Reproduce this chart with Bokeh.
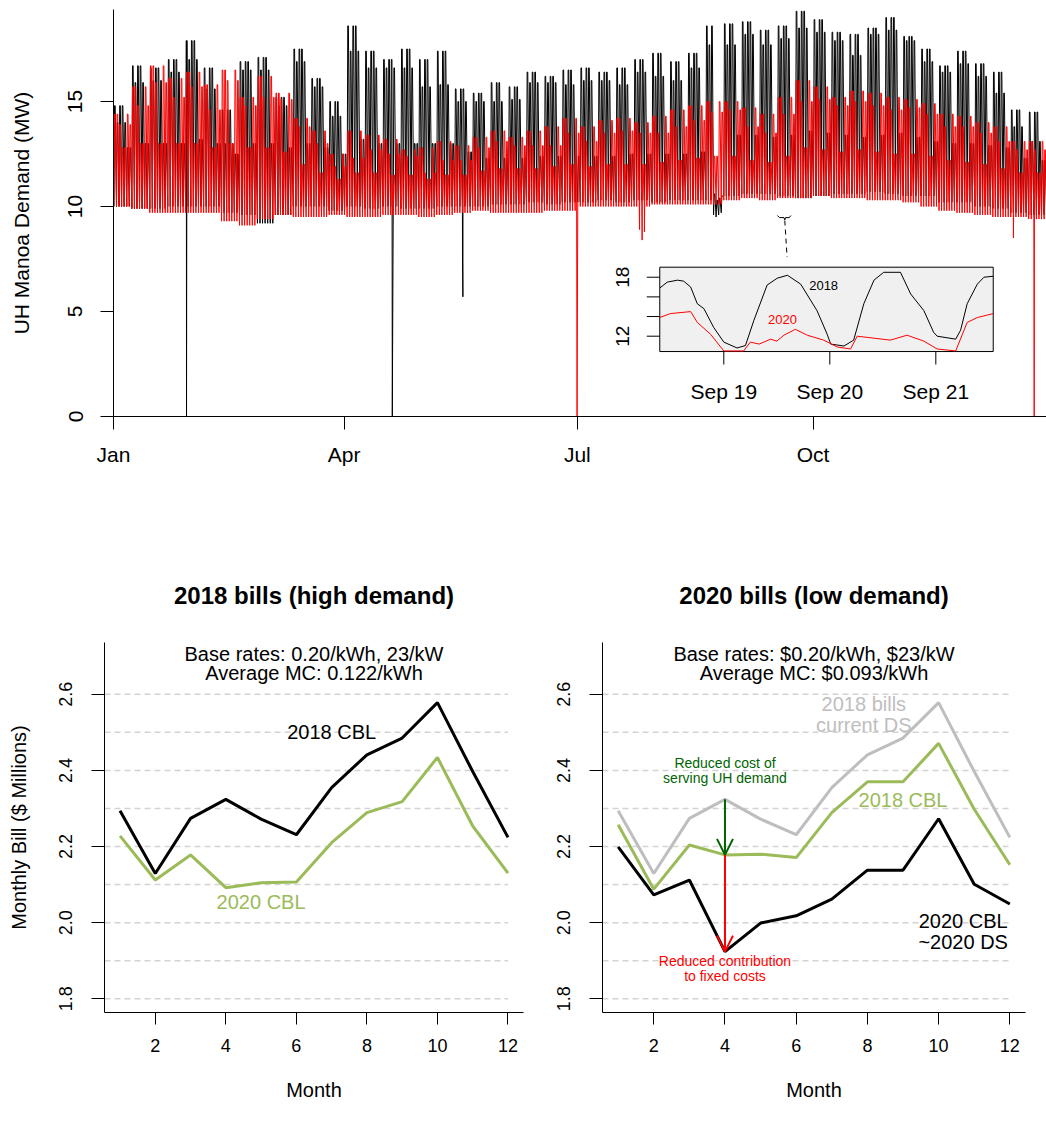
import numpy as np
from bokeh.plotting import figure
from bokeh.layouts import column, row
from bokeh.models import Range1d, FixedTicker, Arrow, OpenHead, PrintfTickFormatter, Title
from bokeh.core.properties import value
from bokeh.embed import file_html
from bokeh.resources import INLINE

FONT = "Liberation Sans"

# ---------------- top panel data (per week of the year) -------------
# weekly weekday peak (higher / lower days), weekend peak and nightly low, MW
peak_hi_2018 = [14.8, 16.7, 16.6, 17.0, 17.9, 16.6, 14.6, 16.9, 17.1, 15.2,
                17.5, 16.1, 15.0, 18.6, 17.4, 17.0, 17.5, 17.0, 17.4, 15.6,
                15.4, 15.9, 15.7, 16.4, 16.2, 16.5, 16.6, 16.4, 16.6, 17.0,
                17.3, 16.9, 17.3, 18.6, 18.7, 18.8, 18.4, 18.6, 19.3, 18.9,
                18.3, 18.2, 18.5, 19.0, 18.1, 17.5, 16.7, 17.4, 16.8, 16.4,
                14.6, 14.5, 13.0]
peak_lo_2018 = [14.0, 15.9, 16.0, 16.4, 17.0, 15.6, 13.0, 16.5, 16.5, 14.8,
                16.9, 15.7, 14.3, 17.4, 16.6, 16.6, 16.6, 15.7, 15.8, 15.0,
                15.0, 15.0, 15.1, 15.9, 15.9, 15.8, 16.0, 16.0, 15.8, 16.4,
                16.2, 16.0, 16.6, 17.7, 17.7, 18.2, 17.7, 18.0, 18.5, 18.3,
                17.9, 17.2, 18.2, 18.4, 17.9, 16.9, 16.4, 16.8, 16.2, 15.4,
                13.8, 13.1, 12.5]
weekend_2018 = [12.8, 13.0, 13.0, 13.0, 13.2, 13.0, 12.5, 13.0, 13.0, 12.8,
                13.0, 12.8, 12.5, 13.2, 13.0, 13.0, 13.0, 13.0, 13.0, 12.6,
                12.3, 12.3, 12.3, 12.4, 12.4, 12.4, 12.4, 12.4, 12.5, 12.5,
                12.5, 12.5, 12.6, 13.2, 13.4, 13.4, 13.3, 13.4, 13.6, 13.5,
                13.4, 13.3, 13.4, 13.5, 13.3, 13.1, 13.0, 13.0, 12.9, 12.8,
                12.3, 12.2, 12.0]
low_2018 = [10.0, 9.9, 9.9, 10.0, 10.0, 10.0, 9.7, 9.6, 9.2, 9.6,
            10.0, 10.0, 9.8, 10.0, 9.9, 10.0, 9.9, 9.9, 10.0, 10.0,
            10.0, 10.1, 10.1, 10.2, 10.1, 10.2, 10.2, 10.3, 10.2, 10.3,
            10.2, 10.3, 10.3, 10.3, 10.5, 10.6, 10.6, 10.5, 10.4, 10.5,
            10.6, 10.6, 10.7, 10.6, 10.5, 10.5, 10.2, 10.2, 10.0, 9.9,
            9.7, 9.6, 9.7]

peak_hi_2020 = [14.4, 15.7, 16.7, 16.1, 16.4, 15.8, 16.5, 15.2, 16.2, 15.4,
                14.2, 13.6, 12.5, 13.6, 13.4, 13.2, 12.7, 12.8, 13.1, 12.9,
                13.3, 13.6, 13.3, 13.6, 13.8, 14.2, 13.8, 14.1, 14.2, 14.0,
                14.3, 14.6, 14.8, 15.0, 15.0, 14.7, 14.4, 15.2, 16.0, 15.7,
                15.2, 15.5, 15.4, 15.2, 15.1, 14.9, 14.4, 14.3, 14.0, 13.8,
                13.1, 13.1, 12.8]
peak_lo_2020 = [13.9, 14.8, 15.9, 15.2, 15.7, 14.6, 16.0, 14.8, 15.2, 15.1,
                13.8, 13.0, 11.9, 12.3, 12.7, 12.5, 12.4, 11.6, 12.2, 12.2,
                12.8, 13.1, 12.9, 12.9, 12.9, 13.5, 13.1, 13.5, 13.6, 13.5,
                13.5, 13.8, 14.1, 14.5, 14.6, 13.8, 13.5, 14.4, 15.0, 15.1,
                14.8, 15.0, 14.8, 14.6, 14.7, 14.4, 13.8, 13.8, 13.5, 13.1,
                12.7, 12.7, 12.5]
weekend_2020 = [12.8, 13.0, 13.0, 13.0, 13.0, 12.8, 13.0, 12.8, 12.8, 12.6,
                12.0, 11.6, 11.3, 11.6, 11.6, 11.5, 11.5, 11.3, 11.5, 11.5,
                11.7, 11.8, 11.8, 11.8, 11.9, 12.0, 11.9, 12.0, 12.0, 12.0,
                12.1, 12.2, 12.3, 12.4, 12.4, 12.2, 12.1, 12.4, 12.8, 12.7,
                12.6, 12.7, 12.6, 12.5, 12.5, 12.4, 12.2, 12.1, 12.0, 11.8,
                11.6, 11.6, 11.5]
low_2020 = [10.0, 9.9, 9.7, 9.7, 9.7, 9.7, 9.3, 9.1, 9.4, 9.6,
            9.5, 9.5, 9.6, 9.5, 9.5, 9.6, 9.6, 9.5, 9.6, 9.7,
            9.8, 9.7, 9.7, 9.7, 9.8, 9.8, 10.0, 10.0, 10.0, 10.0,
            10.1, 10.1, 10.1, 10.1, 10.3, 10.4, 10.3, 10.4, 10.4, 10.5,
            10.4, 10.4, 10.3, 10.3, 10.2, 10.0, 9.8, 9.7, 9.6, 9.5,
            9.5, 9.4, 9.4]

# single readings: outages / dips (day of year, MW)
event_day_2018 = [28.5, 108.8, 136.2, 136.35]
event_mw_2018 = [0.0, 0.0, 7.5, 5.7]
storm_day_2018 = [234, 235, 236, 237]
storm_peak_2018 = [10.6, 10.3, 10.4, 10.5]
storm_low_2018 = [9.6, 9.5, 9.6, 9.7]
event_day_2020 = [180.9, 205.3, 206.3, 207.2, 351.2, 359.3]
event_mw_2020 = [0.0, 8.9, 8.4, 8.8, 8.5, 0.0]

month_tick_days = [0, 90, 181, 273]
month_tick_names = ["Jan", "Apr", "Jul", "Oct"]
demand_ticks = [0, 5, 10, 15]

# inset: Sep 18-21, hours since Sep 18 00:00
inset_day0 = 260  # Sep 18 (0-based day of year)
inset_hours_2018 = [9.5, 11.2, 13.5, 14.9, 16.5, 18.0, 19.5, 21.7, 24.0, 27.0,
                    28.9, 30.8, 33.8, 36.1, 38.4, 41.4, 45.1, 47.4, 48.2, 51.2,
                    53.4, 55.7, 58.0, 60.2, 64.0, 66.3, 69.3, 71.5, 72.3, 76.5,
                    77.6, 79.1, 81.4, 82.9, 85.0]
inset_mw_2018 = [16.9, 17.5, 17.7, 17.6, 17.0, 15.3, 14.8, 12.9, 11.4, 10.8,
                 11.05, 13.6, 17.2, 17.9, 18.2, 17.3, 14.6, 12.2, 11.2, 11.0,
                 11.6, 15.3, 17.7, 18.5, 18.5, 16.3, 14.6, 12.4, 12.0, 11.7,
                 12.6, 15.3, 17.3, 18.0, 18.1]
inset_hours_2020 = [9.5, 11.9, 16.5, 18.0, 21.0, 24.0, 28.5, 30.0, 32.0, 34.6,
                    36.0, 37.6, 40.2, 42.9, 46.6, 49.7, 52.7, 54.2, 58.0, 61.7,
                    65.5, 69.3, 72.3, 76.5, 79.1, 81.4, 85.0]
inset_mw_2020 = [13.9, 14.3, 14.5, 13.4, 12.2, 10.5, 10.5, 11.4, 11.2, 11.7,
                 11.5, 12.1, 12.7, 12.1, 11.6, 10.9, 10.7, 12.0, 11.8, 11.6,
                 12.1, 11.5, 10.7, 10.5, 13.4, 13.9, 14.3]
inset_ticks_hours = [24, 48, 72]
inset_tick_names = ["Sep 19", "Sep 20", "Sep 21"]
inset_ticks_mw = [12, 14, 16, 18]
inset_ylim = (10.44, 19.02)

# ---------------- bottom panels data ($ millions per month) ----------------
months = list(range(1, 13))
bill18_cbl18 = [2.294, 2.129, 2.274, 2.324, 2.272, 2.231, 2.355, 2.441, 2.485, 2.578, 2.397, 2.224]
bill18_cbl20 = [2.228, 2.112, 2.178, 2.092, 2.105, 2.107, 2.210, 2.289, 2.318, 2.434, 2.254, 2.130]
bill20_cbl18 = [2.257, 2.088, 2.204, 2.178, 2.180, 2.171, 2.289, 2.370, 2.370, 2.471, 2.298, 2.152]
bill20_cbl20 = [2.199, 2.073, 2.112, 1.924, 1.999, 2.018, 2.062, 2.138, 2.138, 2.273, 2.101, 2.049]
grid_levels = [1.8, 1.9, 2.0, 2.1, 2.2, 2.3, 2.4, 2.5, 2.6]
bill_ticks = [1.8, 2.0, 2.2, 2.4, 2.6]
month_ticks = [2, 4, 6, 8, 10, 12]

GREEN = "#9BBB59"
GRAY = "#BEBEBE"


def build_series(pk_hi, pk_lo, pk_we, lows, dow_shift, ev_day, ev_mw,
                 ov_day=(), ov_pk=(), ov_lo=()):
    ov = {d: (a, b) for d, a, b in zip(ov_day, ov_pk, ov_lo)}
    t, v = [], []
    for d in range(365):
        k = d // 7
        dow = (d + dow_shift) % 7
        if d in ov:
            pk, lo = ov[d]
        else:
            lo = lows[k]
            if dow >= 5:
                pk = pk_we[k]
            elif dow in (0, 2, 3):
                pk = pk_hi[k]
            else:
                pk = pk_lo[k]
        t += [d + 4 / 24, d + 10 / 24, d + 16 / 24]
        v += [lo, pk, pk]
    t += list(ev_day)
    v += list(ev_mw)
    order = np.argsort(np.array(t), kind="stable")
    return np.array(t)[order], np.array(v)[order]


def style_axis(ax, size, tick_out, standoff):
    ax.axis_line_color = "black"
    ax.axis_line_width = 1
    ax.major_tick_line_color = "black"
    ax.major_tick_in = 0
    ax.major_tick_out = tick_out
    ax.minor_tick_line_color = None
    ax.major_label_text_font = FONT
    ax.major_label_text_font_size = size
    ax.major_label_text_color = "black"
    ax.major_label_standoff = standoff
    ax.axis_label_text_font = FONT
    ax.axis_label_text_font_style = "normal"
    ax.axis_label_text_color = "black"


# ---------------- top figure ----------------
top = figure(width=1046, height=480, x_range=Range1d(0, 364.1), y_range=Range1d(0, 19.38),
             output_backend="svg", toolbar_location=None,
             min_border_left=113, min_border_right=0, min_border_top=9, min_border_bottom=64)
top.outline_line_color = None
top.xgrid.visible = False
top.ygrid.visible = False
style_axis(top.xaxis[0], "21px", 13, 13)
style_axis(top.yaxis[0], "21px", 13, 18)
top.xaxis.ticker = FixedTicker(ticks=month_tick_days)
top.xaxis.major_label_overrides = {d: n for d, n in zip(month_tick_days, month_tick_names)}
top.yaxis.ticker = FixedTicker(ticks=demand_ticks)
top.yaxis.major_label_orientation = "vertical"
top.yaxis.axis_label = "UH Manoa Demand (MW)"
top.yaxis.axis_label_text_font_size = "21px"
top.yaxis.axis_label_standoff = 33

t18, v18 = build_series(peak_hi_2018, peak_lo_2018, weekend_2018, low_2018, 0,
                        event_day_2018, event_mw_2018, storm_day_2018, storm_peak_2018, storm_low_2018)
t20, v20 = build_series(peak_hi_2020, peak_lo_2020, weekend_2020, low_2020, 2,
                        event_day_2020, event_mw_2020)
top.line(t18, v18, line_color="black", line_width=1)
top.line(t20, v20, line_color="red", line_width=1)

# bracket + dashed connector marking the inset period
bx0 = inset_day0 + inset_hours_2018[0] / 24
bx1 = inset_day0 + inset_hours_2018[-1] / 24
bxc = (bx0 + bx1) / 2
top.line([bx0 - 1.3, bx0 - 0.5, bxc - 0.3, bxc, bxc + 0.3, bx1 + 0.2, bx1 + 0.8],
         [9.57, 9.47, 9.47, 9.36, 9.47, 9.47, 9.57], line_color="black", line_width=1)
top.line([bxc, bxc + 0.9], [9.33, 7.59], line_color="black", line_width=1, line_dash="5 4")

# inset drawn on extra ranges
top.extra_x_ranges = {"ix": Range1d(-114.18, 97.06)}
top.extra_y_ranges = {"iy": Range1d(3.831, 45.235)}
ixl, ixr = inset_hours_2018[0], inset_hours_2018[-1]
top.quad(left=[ixl], right=[ixr], bottom=[inset_ylim[0]], top=[inset_ylim[1]],
         fill_color="#F0F0F0", line_color="black", line_width=1,
         x_range_name="ix", y_range_name="iy")
top.line(inset_hours_2018, inset_mw_2018, line_color="black", line_width=1,
         x_range_name="ix", y_range_name="iy")
top.line(inset_hours_2020, inset_mw_2020, line_color="red", line_width=1,
         x_range_name="ix", y_range_name="iy")
top.ray(x=[ixl] * len(inset_ticks_mw), y=inset_ticks_mw, length=13, length_units="screen",
        angle=np.pi, line_color="black", line_width=1, x_range_name="ix", y_range_name="iy")
top.ray(x=inset_ticks_hours, y=[inset_ylim[0]] * 3, length=13, length_units="screen",
        angle=-np.pi / 2, line_color="black", line_width=1, x_range_name="ix", y_range_name="iy")
top.text(x=[ixl, ixl], y=[12, 18], text=["12", "18"], angle=np.pi / 2, x_offset=-37,
         text_align="center", text_baseline="middle", text_font=value(FONT),
         text_font_size="19px", text_color="black", x_range_name="ix", y_range_name="iy")
top.text(x=inset_ticks_hours, y=[inset_ylim[0]] * 3, text=inset_tick_names, y_offset=40,
         text_align="center", text_baseline="middle", text_font=value(FONT),
         text_font_size="21px", text_color="black", x_range_name="ix", y_range_name="iy")
top.text(x=[46.6], y=[17.16], text=["2018"], text_align="center", text_baseline="middle",
         text_font=value(FONT), text_font_size="13px", text_color="black",
         x_range_name="ix", y_range_name="iy")
top.text(x=[37.3], y=[13.7], text=["2020"], text_align="center", text_baseline="middle",
         text_font=value(FONT), text_font_size="13px", text_color="red",
         x_range_name="ix", y_range_name="iy")


# ---------------- bottom figures ----------------
def bill_fig(width, mbl, mbr, title):
    p = figure(width=width, height=632, x_range=Range1d(0.56, 12.44), y_range=Range1d(1.764, 2.736),
               output_backend="svg", toolbar_location=None, title=title,
               min_border_left=mbl, min_border_right=mbr, min_border_top=162, min_border_bottom=100)
    p.outline_line_color = None
    p.xgrid.visible = False
    p.ygrid.visible = False
    p.title.text_font = FONT
    p.title.text_font_size = "24px"
    p.title.text_font_style = "bold"
    p.title.text_color = "black"
    p.title.align = "center"
    # spacer between title and frame
    p.add_layout(Title(text=" ", text_font_size="16px"), "above")
    style_axis(p.xaxis[0], "18px", 12, 14)
    style_axis(p.yaxis[0], "18px", 13, 19)
    p.xaxis.ticker = FixedTicker(ticks=month_ticks)
    p.yaxis.ticker = FixedTicker(ticks=bill_ticks)
    p.yaxis.formatter = PrintfTickFormatter(format="%.1f")
    p.yaxis.major_label_orientation = "vertical"
    p.xaxis.axis_label = "Month"
    p.xaxis.axis_label_text_font_size = "20px"
    p.xaxis.axis_label_standoff = 24
    p.segment(x0=[0.56] * len(grid_levels), y0=grid_levels, x1=[12] * len(grid_levels), y1=grid_levels,
              line_color="#D3D3D3", line_width=1.5, line_dash="6 4")
    return p


def txt(p, x, y, s, color="black", size="20px"):
    p.text(x=[x], y=[y], text=[s], text_align="center", text_baseline="middle",
           text_font=value(FONT), text_font_size=size, text_color=color, text_line_height=0.95)


left = bill_fig(540, 104, 17, "2018 bills (high demand)")
left.yaxis.axis_label = "Monthly Bill ($ Millions)"
left.yaxis.axis_label_text_font_size = "20px"
left.yaxis.axis_label_standoff = 27
left.line(months, bill18_cbl18, line_color="black", line_width=3)
left.line(months, bill18_cbl20, line_color=GREEN, line_width=3)
txt(left, 6.5, 2.707, "Base rates: 0.20/kWh, 23/kW")
txt(left, 6.5, 2.657, "Average MC: 0.122/kWh")
txt(left, 7.0, 2.50, "2018 CBL")
txt(left, 5.0, 2.053, "2020 CBL", GREEN)

right = bill_fig(506, 62, 21, "2020 bills (low demand)")
right.line(months, bill18_cbl18, line_color=GRAY, line_width=3)
right.line(months, bill20_cbl18, line_color=GREEN, line_width=3)
right.line(months, bill20_cbl20, line_color="black", line_width=3)
txt(right, 6.5, 2.707, "Base rates: $0.20/kWh, $23/kW")
txt(right, 6.5, 2.657, "Average MC: $0.093/kWh")
txt(right, 7.9, 2.547, "2018 bills\ncurrent DS", GRAY)
txt(right, 9.0, 2.323, "2018 CBL", GREEN)
txt(right, 10.69, 1.977, "2020 CBL\n~2020 DS")
txt(right, 4.0, 2.40, "Reduced cost of\nserving UH demand", "darkgreen", "14px")
txt(right, 4.0, 1.88, "Reduced contribution\nto fixed costs", "red", "14px")
i4 = months.index(4)
right.add_layout(Arrow(end=OpenHead(size=16, line_color="darkgreen", line_width=2),
                       x_start=4, y_start=bill18_cbl18[i4], x_end=4, y_end=bill20_cbl18[i4],
                       line_color="darkgreen", line_width=2))
right.add_layout(Arrow(end=OpenHead(size=16, line_color="red", line_width=2),
                       x_start=4, y_start=bill20_cbl18[i4], x_end=4, y_end=bill20_cbl20[i4],
                       line_color="red", line_width=2))

layout = column(top, row(left, right))
open("out.html", "w").write(file_html(layout, INLINE))
